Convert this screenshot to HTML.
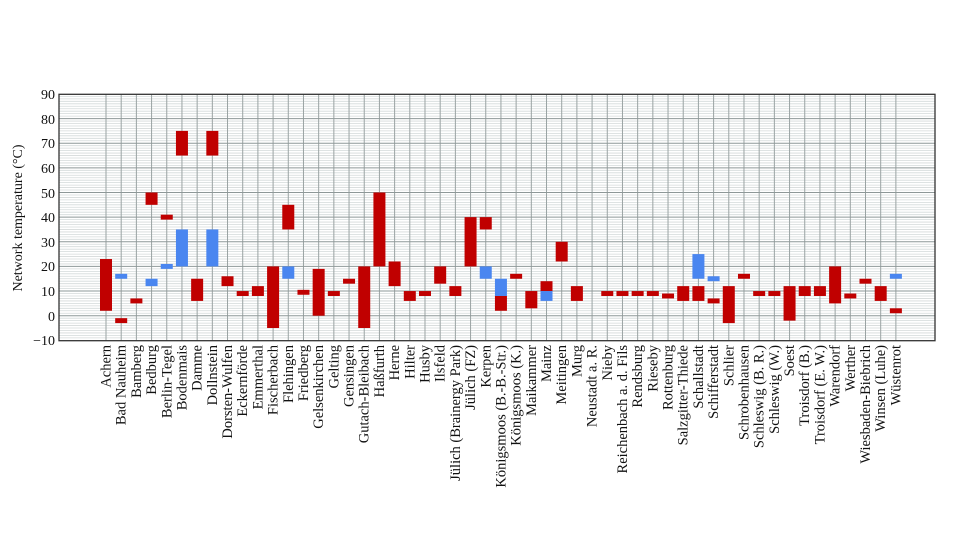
<!DOCTYPE html>
<html><head><meta charset="utf-8"><style>
body{margin:0;background:#fff;}
svg{display:block;font-family:"Liberation Serif",serif;}
.l{font-size:14.5px;fill:#111;text-anchor:end;}
</style></head><body>
<svg id="s" width="960" height="540" xmlns="http://www.w3.org/2000/svg">
<g id="grid"></g>
<g id="bars"></g>
<rect x="59" y="94.3" width="876" height="246.4" fill="none" stroke="#333" stroke-width="1.3"/>
<g font-size="14" text-anchor="end" fill="#111">
<text x="55" y="99">90</text><text x="55" y="124">80</text><text x="55" y="148">70</text><text x="55" y="173">60</text><text x="55" y="198">50</text><text x="55" y="222">40</text><text x="55" y="247">30</text><text x="55" y="271">20</text><text x="55" y="296">10</text><text x="55" y="321">0</text><text x="55" y="345">−10</text>
</g>
<text transform="translate(22,218) rotate(-90)" text-anchor="middle" font-size="14" fill="#111">Network temperature (°C)</text>
<g class="l">
<text class="l" transform="translate(110.5,345) rotate(-90)">Achern</text>
<text class="l" transform="translate(125.7,345) rotate(-90)">Bad Nauheim</text>
<text class="l" transform="translate(140.9,345) rotate(-90)">Bamberg</text>
<text class="l" transform="translate(156.1,345) rotate(-90)">Bedburg</text>
<text class="l" transform="translate(171.3,345) rotate(-90)">Berlin-Tegel</text>
<text class="l" transform="translate(186.5,345) rotate(-90)">Bodenmais</text>
<text class="l" transform="translate(201.6,345) rotate(-90)">Damme</text>
<text class="l" transform="translate(216.8,345) rotate(-90)">Dollnstein</text>
<text class="l" transform="translate(232.0,345) rotate(-90)">Dorsten-Wulfen</text>
<text class="l" transform="translate(247.2,345) rotate(-90)">Eckernförde</text>
<text class="l" transform="translate(262.4,345) rotate(-90)">Emmerthal</text>
<text class="l" transform="translate(277.6,345) rotate(-90)">Fischerbach</text>
<text class="l" transform="translate(292.8,345) rotate(-90)">Flehingen</text>
<text class="l" transform="translate(308.0,345) rotate(-90)">Friedberg</text>
<text class="l" transform="translate(323.2,345) rotate(-90)">Gelsenkirchen</text>
<text class="l" transform="translate(338.4,345) rotate(-90)">Gelting</text>
<text class="l" transform="translate(353.5,345) rotate(-90)">Gensingen</text>
<text class="l" transform="translate(368.7,345) rotate(-90)">Gutach-Bleibach</text>
<text class="l" transform="translate(383.9,345) rotate(-90)">Haßfurth</text>
<text class="l" transform="translate(399.1,345) rotate(-90)">Herne</text>
<text class="l" transform="translate(414.3,345) rotate(-90)">Hilter</text>
<text class="l" transform="translate(429.5,345) rotate(-90)">Husby</text>
<text class="l" transform="translate(444.7,345) rotate(-90)">Ilsfeld</text>
<text class="l" transform="translate(459.9,345) rotate(-90)">Jülich (Brainergy Park)</text>
<text class="l" transform="translate(475.1,345) rotate(-90)">Jülich (FZ)</text>
<text class="l" transform="translate(490.3,345) rotate(-90)">Kerpen</text>
<text class="l" transform="translate(505.4,345) rotate(-90)">Königsmoos (B.-B.-Str.)</text>
<text class="l" transform="translate(520.6,345) rotate(-90)">Königsmoos (K.)</text>
<text class="l" transform="translate(535.8,345) rotate(-90)">Maikammer</text>
<text class="l" transform="translate(551.0,345) rotate(-90)">Mainz</text>
<text class="l" transform="translate(566.2,345) rotate(-90)">Meitingen</text>
<text class="l" transform="translate(581.4,345) rotate(-90)">Murg</text>
<text class="l" transform="translate(596.6,345) rotate(-90)">Neustadt a. R.</text>
<text class="l" transform="translate(611.8,345) rotate(-90)">Nieby</text>
<text class="l" transform="translate(627.0,345) rotate(-90)">Reichenbach a. d. Fils</text>
<text class="l" transform="translate(642.2,345) rotate(-90)">Rendsburg</text>
<text class="l" transform="translate(657.3,345) rotate(-90)">Rieseby</text>
<text class="l" transform="translate(672.5,345) rotate(-90)">Rottenburg</text>
<text class="l" transform="translate(687.7,345) rotate(-90)">Salzgitter-Thiede</text>
<text class="l" transform="translate(702.9,345) rotate(-90)">Schallstadt</text>
<text class="l" transform="translate(718.1,345) rotate(-90)">Schifferstadt</text>
<text class="l" transform="translate(733.3,345) rotate(-90)">Schlier</text>
<text class="l" transform="translate(748.5,345) rotate(-90)">Schrobenhausen</text>
<text class="l" transform="translate(763.7,345) rotate(-90)">Schleswig (B. R.)</text>
<text class="l" transform="translate(778.9,345) rotate(-90)">Schleswig (W.)</text>
<text class="l" transform="translate(794.1,345) rotate(-90)">Soest</text>
<text class="l" transform="translate(809.2,345) rotate(-90)">Troisdorf (B.)</text>
<text class="l" transform="translate(824.4,345) rotate(-90)">Troisdorf (E. W.)</text>
<text class="l" transform="translate(839.6,345) rotate(-90)">Warendorf</text>
<text class="l" transform="translate(854.8,345) rotate(-90)">Werther</text>
<text class="l" transform="translate(870.0,345) rotate(-90)">Wiesbaden-Biebrich</text>
<text class="l" transform="translate(885.2,345) rotate(-90)">Winsen (Luhe)</text>
<text class="l" transform="translate(900.4,345) rotate(-90)">Wüstenrot</text>
</g>
</svg>
<script>
var NS="http://www.w3.org/2000/svg";
function Y(v){return 315.7-2.464*v;}
function X(i){return 106+15.19*i;}
function el(p,t,a){var e=document.createElementNS(NS,t);for(var k in a)e.setAttribute(k,a[k]);p.appendChild(e);return e;}
var g=document.getElementById('grid'),b=document.getElementById('bars');
for(var v=-10;v<=90;v++){if(v%10==0)continue;el(g,'line',{x1:59,x2:935,y1:Y(v),y2:Y(v),stroke:'#d4dada','stroke-width':0.8});}
for(var i=0;i<53;i++)el(g,'line',{x1:X(i),x2:X(i),y1:94.3,y2:340.7,stroke:'#9aa3a3','stroke-width':1});
for(var v=0;v<=80;v+=10)el(g,'line',{x1:59,x2:935,y1:Y(v),y2:Y(v),stroke:'#8e9898','stroke-width':1});
var R=[[2,23],[-3,-1],[5,7],[45,50],[39,41],[65,75],[6,15],[65,75],[12,16],[8,10],[8,12],[-5,20],[35,45],[8.5,10.5],[0,19],[8,10],[13,15],[-5,20],[20,50],[12,22],[6,10],[8,10],[13,20],[8,12],[20,40],[35,40],[2,8],[15,17],[3,10],[10,14],[22,30],[6,12],null,[8,10],[8,10],[8,10],[8,10],[7,9],[6,12],[6,12],[5,7],[-3,12],[15,17],[8,10],[8,10],[-2,12],[8,12],[8,12],[5,20],[7,9],[13,15],[6,12],[1,3]];
var B={1:[15,17],3:[12,15],4:[19,21],5:[20,35],7:[20,35],12:[15,20],25:[15,20],26:[8,15],29:[6,10],39:[15,25],40:[14,16],52:[15,17]};
for(var i=0;i<53;i++){var r=R[i];if(r)el(b,'rect',{x:X(i)-6,y:Y(r[1]),width:12,height:Y(r[0])-Y(r[1]),fill:'#c00000'});
if(B[i]){r=B[i];el(b,'rect',{x:X(i)-6,y:Y(r[1]),width:12,height:Y(r[0])-Y(r[1]),fill:'#4a86f0'});}}
</script>
</body></html>
